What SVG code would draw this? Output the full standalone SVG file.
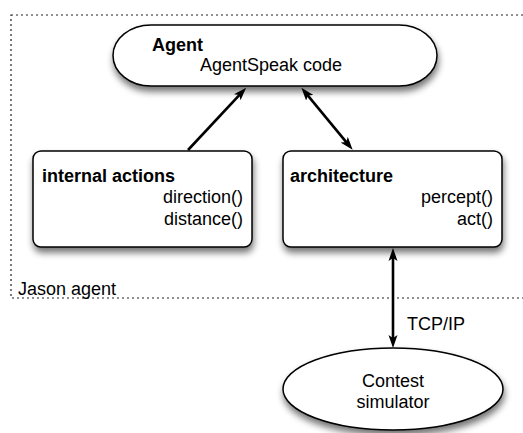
<svg xmlns="http://www.w3.org/2000/svg" width="523" height="433" viewBox="0 0 523 433">
<style>
.shape{fill:#fff;stroke:#000;stroke-width:1.5;filter:url(#sh)}
.t{font-family:"Liberation Sans",Arial,Helvetica,sans-serif;font-size:18px;fill:#000}
.b{font-weight:bold}
.e{text-anchor:end}
.m{text-anchor:middle}
.conn{stroke:#000;stroke-width:2.6;fill:none}
</style>
<defs>
<filter id="sh" x="-20%" y="-30%" width="140%" height="170%">
<feGaussianBlur in="SourceAlpha" stdDeviation="3.5"/>
<feOffset dx="1" dy="5" result="o"/>
<feComponentTransfer><feFuncA type="linear" slope="0.55"/></feComponentTransfer>
<feMerge><feMergeNode/><feMergeNode in="SourceGraphic"/></feMerge>
</filter>
<marker id="ah" markerUnits="userSpaceOnUse" markerWidth="13" markerHeight="10" refX="4" refY="5" orient="auto-start-reverse">
<path d="M0,0.5 L13,5 L0,9.5 L3,5 z" fill="#000"/>
</marker>
</defs>
<rect x="11" y="15" width="530" height="283" fill="none" stroke="#222" stroke-width="1.2" stroke-dasharray="2 3"/>
<text class="t" x="18" y="295">Jason agent</text>

<g id="agent">
<rect class="shape" x="113" y="25" width="324" height="61" rx="38" ry="30.5"/>
<text class="t b" x="152" y="51">Agent</text>
<text class="t" x="200" y="71">AgentSpeak code</text>
</g>

<g id="internal-actions">
<rect class="shape" x="33" y="151" width="219" height="96" rx="8"/>
<text class="t b" x="42" y="182">internal actions</text>
<text class="t e" x="243" y="203">direction()</text>
<text class="t e" x="243" y="225">distance()</text>
</g>

<g id="architecture">
<rect class="shape" x="283" y="151" width="219" height="96" rx="8"/>
<text class="t b" x="290" y="182">architecture</text>
<text class="t e" x="493" y="203">percept()</text>
<text class="t e" x="493" y="225">act()</text>
</g>

<g id="simulator">
<ellipse class="shape" cx="393" cy="389" rx="110" ry="41"/>
<text class="t m" x="393" y="387">Contest</text>
<text class="t m" x="393" y="408">simulator</text>
</g>

<g id="connectors">
<line class="conn" x1="188" y1="150" x2="240" y2="94.3" marker-end="url(#ah)"/>
<line class="conn" x1="307.1" y1="94.7" x2="346.9" y2="142.8" marker-start="url(#ah)" marker-end="url(#ah)"/>
<line class="conn" x1="393" y1="257" x2="393" y2="339" marker-start="url(#ah)" marker-end="url(#ah)"/>
<text class="t" x="407" y="330">TCP/IP</text>
</g>
</svg>
